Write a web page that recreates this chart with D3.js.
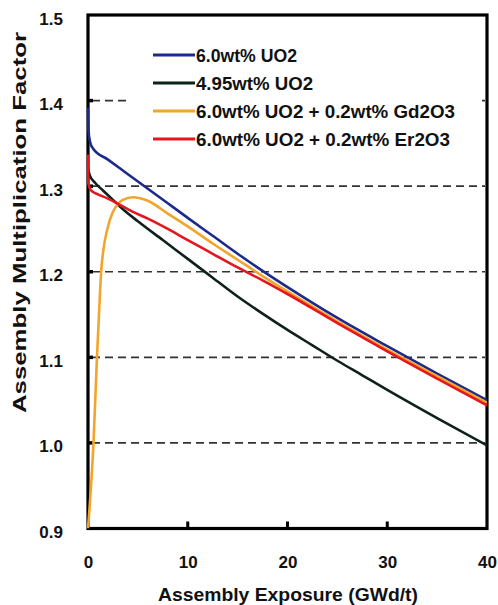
<!DOCTYPE html>
<html>
<head>
<meta charset="utf-8">
<script src="https://cdn.jsdelivr.net/npm/d3@7"></script>
<style>
  html, body { margin: 0; padding: 0; background: #fff; }
  svg { display: block; }
  text { font-family: "Liberation Sans", Arial, sans-serif; fill: #111; }
</style>
</head>
<body>
<div id="chart"></div>
<script>
// ---------- data ----------
const seriesNames = [
  "6.0wt% UO2",
  "4.95wt% UO2",
  "6.0wt% UO2 + 0.2wt% Gd2O3",
  "6.0wt% UO2 + 0.2wt% Er2O3"
];

const exposureUO2_60 = [0, 0.05, 0.2, 0.5, 2, 4, 6, 8, 10, 12.5, 15, 17.5, 20, 25, 30, 35, 40];
const kUO2_60        = [1.392, 1.365, 1.352, 1.344, 1.331, 1.314, 1.297, 1.280, 1.263, 1.242, 1.221, 1.201, 1.182, 1.146, 1.113, 1.081, 1.050];

const exposureUO2_495 = [0, 0.2, 0.7, 1.5, 2.5, 3.5, 5, 7.5, 10, 12.5, 15, 17.5, 20, 22.5, 25, 27.5, 30, 35, 40];
const kUO2_495        = [1.320, 1.312, 1.304, 1.295, 1.284, 1.273, 1.259, 1.237, 1.215, 1.193, 1.171, 1.151, 1.132, 1.114, 1.096, 1.079, 1.062, 1.029, 0.997];

const exposureGd = [0, 0.55, 0.9, 1.1, 1.32, 1.6, 1.9, 2.5, 3.0, 3.5, 4.5, 5.2, 6, 8, 10, 12.5, 15, 17.5, 20, 25, 30, 35, 40];
const kGd        = [0.900, 1.000, 1.100, 1.150, 1.200, 1.230, 1.248, 1.270, 1.279, 1.284, 1.287, 1.286, 1.283, 1.268, 1.253, 1.233, 1.214, 1.195, 1.177, 1.142, 1.109, 1.078, 1.047];

const exposureEr = [0, 0.03, 0.3, 1, 2, 3.2, 4.5, 6, 8, 10, 12.5, 15, 17.5, 20, 25, 30, 35, 40];
const kEr        = [1.337, 1.304, 1.295, 1.2905, 1.2855, 1.278, 1.270, 1.262, 1.250, 1.237, 1.221, 1.205, 1.190, 1.174, 1.140, 1.107, 1.075, 1.044];

const xTicks = [0, 10, 20, 30, 40];
const yTicks = [0.9, 1.0, 1.1, 1.2, 1.3, 1.4, 1.5];
const gridValues = [1.0, 1.1, 1.2, 1.3, 1.4];

const xTitle = "Assembly Exposure (GWd/t)";
const yTitle = "Assembly Multiplication Factor";

// ---------- layout ----------
const W = 498, H = 605;
const mLeft = 88, mRight = 487, mTop = 15, mBottom = 528.5;
const colors = ["#1b2a8c", "#0f2219", "#f2a52a", "#e5161d"];
const legendWidths = [101, 117, 259, 254];

const svg = d3.select("#chart").append("svg").attr("width", W).attr("height", H);

const x = d3.scaleLinear().domain([0, 40]).range([mLeft, mRight]);
const y = d3.scaleLinear().domain([0.9, 1.5]).range([mBottom, mTop]);

svg.append("defs").append("clipPath").attr("id", "clip")
  .append("rect").attr("x", mLeft - 2).attr("y", mTop).attr("width", mRight - mLeft + 2).attr("height", mBottom - mTop);

// gridlines
svg.append("g").selectAll("line").data(gridValues).join("line")
  .attr("x1", mLeft + 4).attr("x2", mRight - 2)
  .attr("y1", d => y(d)).attr("y2", d => y(d))
  .attr("stroke", "#333").attr("stroke-width", 1.6).attr("stroke-dasharray", "8,5");

// legend background (hides part of 1.4 gridline)
svg.append("rect").attr("x", 127).attr("y", 36).attr("width", 352).attr("height", 116).attr("fill", "#fff");

// axes (ticks inward)
const yAxis = d3.axisLeft(y).tickValues(yTicks).tickSize(0).tickPadding(25).tickFormat(d3.format(".1f"));
const gy = svg.append("g").attr("transform", `translate(${mLeft},0)`).call(yAxis);
gy.select(".domain").remove();
gy.selectAll("text").attr("font-size", 17).attr("font-weight", "bold").attr("dy", "9px");

const xAxis = d3.axisBottom(x).tickValues(xTicks).tickSize(0).tickPadding(39).tickFormat(d3.format("d"));
const gx = svg.append("g").attr("transform", `translate(0,${mBottom})`).call(xAxis);
gx.select(".domain").remove();
gx.selectAll("text").attr("font-size", 17).attr("font-weight", "bold").attr("y", 39).attr("dy", "0");

// inward tick stubs
svg.append("g").selectAll("line").data(gridValues).join("line")
  .attr("x1", mLeft).attr("x2", mLeft + 5)
  .attr("y1", d => y(d)).attr("y2", d => y(d))
  .attr("stroke", "#000").attr("stroke-width", 3.5);
svg.append("g").selectAll("line").data([10, 20, 30]).join("line")
  .attr("x1", d => x(d)).attr("x2", d => x(d))
  .attr("y1", mBottom).attr("y2", mBottom - 7)
  .attr("stroke", "#000").attr("stroke-width", 3);

// frame
svg.append("rect").attr("x", mLeft).attr("y", mTop).attr("width", mRight - mLeft).attr("height", mBottom - mTop)
  .attr("fill", "none").attr("stroke", "#000").attr("stroke-width", 3.2);

// series (drawn over the frame, as in the original)
const series = [
  { e: exposureUO2_60, k: kUO2_60 },
  { e: exposureUO2_495, k: kUO2_495 },
  { e: exposureGd, k: kGd },
  { e: exposureEr, k: kEr }
];
const line = d3.line().x(d => x(d[0])).y(d => y(d[1])).curve(d3.curveMonotoneX);
const drawOrder = [1, 0, 2, 3];
const gLines = svg.append("g").attr("clip-path", "url(#clip)");
drawOrder.forEach(i => {
  const pts = series[i].e.map((e, j) => [e, series[i].k[j]]);
  gLines.append("path").attr("d", line(pts)).attr("fill", "none")
    .attr("stroke", colors[i]).attr("stroke-width", 2.6).attr("stroke-linejoin", "round");
});

// legend
const lg = svg.append("g");
seriesNames.forEach((name, i) => {
  const ly = 55 + i * 28;
  lg.append("line").attr("x1", 153).attr("x2", 195).attr("y1", ly).attr("y2", ly)
    .attr("stroke", colors[i]).attr("stroke-width", 3);
  lg.append("text").attr("x", 196).attr("y", ly + 7).attr("font-size", 18).attr("font-weight", "bold")
    .attr("textLength", legendWidths[i]).attr("lengthAdjust", "spacingAndGlyphs").text(name);
});

// titles
svg.append("text").attr("x", (158 + 418) / 2).attr("y", 601).attr("text-anchor", "middle")
  .attr("font-size", 19).attr("font-weight", "bold")
  .attr("textLength", 260).attr("lengthAdjust", "spacingAndGlyphs").text(xTitle);

svg.append("text").attr("transform", `translate(26,${(32 + 413) / 2}) rotate(-90)`)
  .attr("text-anchor", "middle").attr("font-size", 19).attr("font-weight", "bold")
  .attr("textLength", 381).attr("lengthAdjust", "spacingAndGlyphs").text(yTitle);
</script>
</body>
</html>
